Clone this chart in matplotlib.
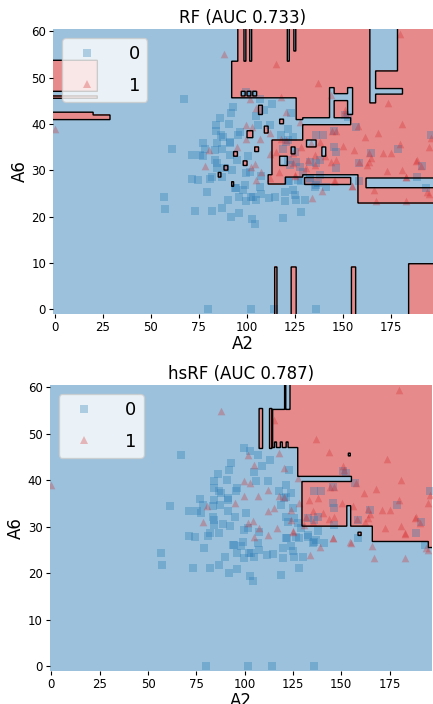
import numpy as np
import matplotlib
matplotlib.use("Agg")
import matplotlib.pyplot as plt
from matplotlib.lines import Line2D

# test points: A2 (glucose), A6 (bmi)
neg_a2 = [67, 86, 84, 84, 86.7, 77, 78.2, 83.4, 61.2, 71.2, 75.6, 77.3, 84.2, 84.2, 82.1,
          71.3, 74.4, 80.8, 86.8, 56.6, 57.2, 73.2, 82.1, 79, 86.8, 80, 102, 114, 136,
          92, 96, 102.9, 104.2, 119, 128, 130.4, 111.4, 114.8, 193.2, 188.9, 93.8, 98,
          102.4, 107, 107.6, 119.7, 124, 125.2, 128.3, 132.7, 135.3, 137, 141.3, 99, 107.6,
          121.4, 84.2, 83.4, 87.3, 91.2, 91.2, 88.6, 92.4, 95.1, 100.7, 99.5, 90, 94.3, 96,
          99.5, 103.3, 105, 99.8, 102.9, 106.7, 92.9, 92, 105, 109, 113.3, 90.8, 105.9,
          111.9, 95.5, 91.2, 96.3, 87.7, 123.1, 121.4, 136.1, 139.6, 145.6, 156.9, 195.8,
          150.9, 152.6, 145.6, 146.5, 137.9, 127.5, 124, 118, 121.4, 164.7, 101.5, 121.4,
          124.9, 179, 191.1, 118.8, 120.5, 122.3, 125.7, 132.7, 136, 146.5, 158.6, 122,
          126.6, 132.7, 136.1, 137.9, 119.7, 125.7, 158.6, 129.2]
neg_a6 = [45.4, 41.3, 39.8, 38.4, 37.6, 36, 34.6, 34.4, 34.5, 33.3, 33.3, 33, 31.5, 30.4, 28.6,
          28.1, 27.9, 28.1, 28.6, 24.3, 21.7, 21.2, 21.2, 25.4, 21.9, 0, 0, 0, 0,
          20, 20.9, 19.5, 18.4, 19.7, 21.1, 23.5, 24, 24.2, 26.1, 28.6, 26.1, 25.8,
          24.3, 26.5, 25, 25.4, 25.8, 24.7, 27.6, 27.9, 26.5, 27.2, 26.5, 26.8, 28.8,
          27.6, 35.8, 32.2, 34.7, 35.8, 33.3, 30.6, 30.1, 32.2, 33, 29.4, 23.6, 26.1, 24.3,
          23.3, 24.3, 23.6, 47, 46.4, 45.5, 43.7, 42.3, 41.7, 43, 44.4, 40.1, 39.8,
          39.8, 37.6, 36.2, 38.3, 37.3, 42.3, 39, 37.6, 37.6, 38.5, 39.4, 37.6,
          41.9, 41.6, 35.1, 34, 32.2, 30.8, 37.3, 37.6, 36.5, 33.7, 29.7, 32.2,
          34, 34.7, 31, 34.7, 36.2, 31.1, 31.9, 31.9, 31.5, 30.4, 31.5, 27.6,
          27.9, 28.3, 26.8, 29, 23.3, 23.6, 27.6, 29.7]

pos_a2 = [0, 88, 80.3, 78.2, 105, 112, 125.2, 139.2, 146, 155, 166, 167.1, 183, 195, 183,
          134, 95.1, 102, 104.1, 107.2, 111.9, 106.7, 99.8, 101.9, 105, 99.8, 102.9, 111.9,
          137, 143.9, 173.8, 150.9, 151.4, 181.1, 161.8, 168.1, 157.8, 144.4, 146.5, 118,
          120.2, 127.8, 115, 195.8, 120.6, 179.9, 118, 128.3, 133.5, 140.5, 150.3, 156,
          163.8, 171.1, 175, 180, 188.5, 190.6, 182.8, 146.5, 115.4, 135.3, 135.3, 124,
          131.8, 137.9, 164.7, 143.9, 158.3, 162.4, 163.8, 172.8, 181.1, 188, 195, 194.1,
          154.8, 145.6, 130.9, 124.9, 116.8, 124]
pos_a6 = [39, 55, 34.4, 31, 27.9, 28.3, 28.8, 25.6, 27.6, 26.6, 25.8, 23.4, 23.3, 25, 28.5,
          24, 35.1, 30.8, 31.3, 29.7, 33.5, 36.7, 36.7, 45.5, 43.4, 39.8, 39.4, 38,
          48.9, 46.2, 44.6, 43.1, 42.3, 40.1, 37.3, 38.1, 39.5, 38.5, 38.5, 45.9,
          42.6, 40.5, 53, 36.9, 36.5, 59.5, 36.7, 35.1, 35.8, 33, 35.2, 34.4,
          33.8, 33.7, 33.7, 35.7, 32.2, 30.9, 28.6, 32.2, 34, 33.3, 31.1, 31.5,
          32.2, 36.2, 32.7, 31.7, 31.7, 31.1, 31.9, 29.8, 30.1, 32, 35.1, 25.4,
          26.7, 27.6, 30.4, 29, 29.7, 33.7]

# predicted-class patches (a2_lo, a2_hi, a6_lo, a6_hi, label), later entries paint over earlier
rf_regions = [
    (95.3, 199, 53.5, 61, 1), (92, 199, 45.6, 53.5, 1), (125.6, 199, 40.9, 45.6, 1),
    (129, 199, 29, 40.9, 1), (157.8, 199, 22.9, 29, 1), (162, 199, 26.2, 28.3, 0),
    (113, 129, 28.5, 36.5, 1), (130, 154, 26.9, 28.4, 1), (111, 120, 27, 29, 1),
    (129, 154, 39.8, 41.3, 0), (143, 145.5, 40.9, 47.8, 0), (143, 155, 45, 46.5, 0),
    (152.5, 155, 42, 47.8, 0), (131, 136, 35, 36.5, 0), (139, 141, 33, 35, 0),
    (117, 121, 31, 33, 0), (123, 125, 33.5, 35, 0),
    (97, 99, 46, 47, 0), (100, 102, 46, 47, 0), (103, 105, 46, 47, 0),
    (88, 90, 30, 31, 1), (93, 95, 33, 34, 1), (100, 103, 37, 38.5, 1), (106, 108, 42, 44, 1),
    (98, 100, 31, 32, 1), (104, 106, 34, 35, 1), (109, 111, 38, 39.5, 1),
    (117, 119, 40, 41, 1), (85, 86.5, 28.5, 29.5, 1), (92, 93, 26.5, 27.5, 1),
    (164, 178.5, 51.4, 61, 0), (164, 167, 44.5, 51.4, 0), (167, 181, 46.4, 47.6, 0),
    (98.5, 99.5, 53.5, 61, 0), (101.5, 102.5, 53.5, 61, 0),
    (121, 122, 53.5, 61, 0), (124.5, 125.5, 55.7, 61, 0),
    (-1, 22.1, 47, 53.7, 1), (-1, 22.1, 45.5, 46.0, 1),
    (-1, 19.8, 41.9, 42.5, 1), (-1, 28.7, 40.9, 41.9, 1),
    (114.4, 115.6, -1, 9.1, 1), (123, 125.6, -1, 9.1, 1), (154.4, 156.7, -1, 9.1, 1),
    (184.3, 199, -1, 9.8, 1),
]
hs_regions = [
    (123.5, 199, 55.2, 61, 1), (120.6, 121.3, 55.2, 61, 1),
    (114.5, 199, 47, 55.2, 1), (107.4, 109.3, 46.8, 55.4, 1), (112.8, 114, 46.8, 55.4, 1),
    (115.5, 116.5, 47, 48.2, 0), (118.5, 119.5, 47, 48.2, 0), (121.5, 122.5, 47, 48.2, 0),
    (127.5, 199, 39.7, 47, 1), (127.5, 155.2, 39.7, 40.8, 0),
    (129.6, 199, 30.1, 39.7, 1), (152.8, 154.9, 30.1, 34.5, 0),
    (166, 199, 26.8, 30.1, 1), (195, 199, 25.5, 26.8, 1),
    (153.6, 154.6, 45.2, 45.8, 0), (158.6, 160.2, 28.1, 28.8, 1),
]

xx, yy = np.meshgrid(np.arange(-1, 198, 0.2), np.arange(-1, 60.6, 0.1))


def paint(regions):
    z = np.zeros_like(xx)
    for x0, x1, y0, y1, lab in regions:
        z[(xx >= x0) & (xx < x1) & (yy >= y0) & (yy < y1)] = lab
    return z


panels = [("RF (AUC 0.733)", rf_regions, [53 / 433, 390 / 704, 380 / 433, 285 / 704]),
          ("hsRF (AUC 0.787)", hs_regions, [49.5 / 433, 33 / 704, 382.5 / 433, 286 / 704])]

fig = plt.figure(figsize=(4.33, 7.04), dpi=100)
for title, regions, rect in panels:
    ax = fig.add_axes(rect)
    z = paint(regions)
    ax.contourf(xx, yy, z, levels=[-0.5, 0.5, 1.5], colors=["#9bc1dc", "#e68a8b"])
    ax.contour(xx, yy, z, levels=[0.5], colors="black", linewidths=1)
    ax.scatter(neg_a2, neg_a6, marker="s", s=30, color="#1f77b4", alpha=0.3, linewidths=0)
    ax.scatter(pos_a2, pos_a6, marker="^", s=30, color="#d62728", alpha=0.3, linewidths=0)
    ax.set_xlim(-1, 197)
    ax.set_ylim(-1, 60.5)
    ax.set_xticks([0, 25, 50, 75, 100, 125, 150, 175])
    ax.set_yticks([0, 10, 20, 30, 40, 50, 60])
    ax.tick_params(labelsize=8.5, length=3, pad=2)
    for s in ax.spines.values():
        s.set_visible(False)
    ax.set_title(title, fontsize=12, pad=4)
    ax.set_xlabel("A2", fontsize=12, labelpad=1)
    ax.set_ylabel("A6", fontsize=12, labelpad=2)
    handles = [Line2D([], [], ls="", marker="s", ms=6, color="#1f77b4", alpha=0.3, mew=0),
               Line2D([], [], ls="", marker="^", ms=6, color="#d62728", alpha=0.3, mew=0)]
    ax.legend(handles, ["0", "1"], loc="upper left", fontsize=13, handletextpad=1.3,
              framealpha=0.8, labelspacing=0.75)

fig.savefig("out.png", dpi=100)
